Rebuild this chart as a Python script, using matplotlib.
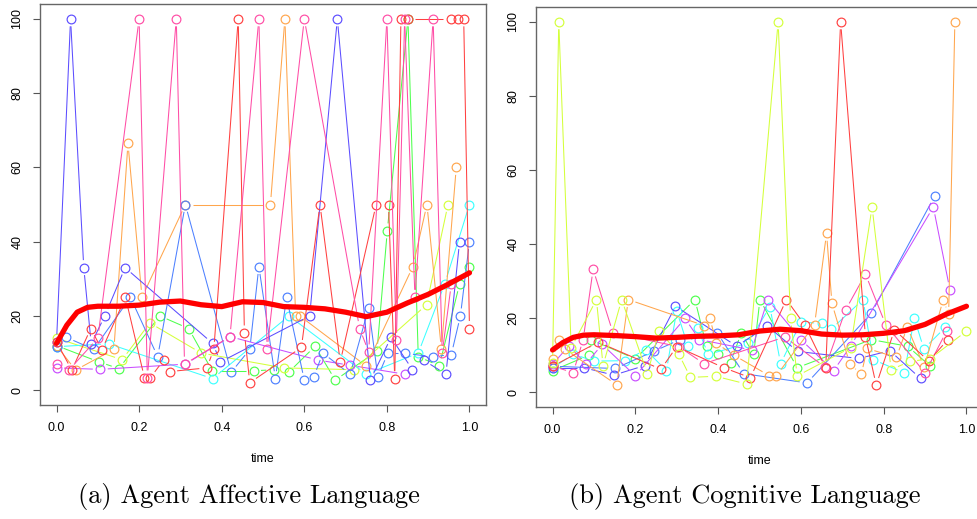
import numpy as np
import matplotlib
matplotlib.use('Agg')
import matplotlib.pyplot as plt
from matplotlib.collections import LineCollection

plt.rcParams['font.family'] = ['Liberation Sans', 'DejaVu Sans']

RED = '#ff4040'
PINK = '#ff4da6'
ORANGE = '#ffa64d'
YELLOW = '#d4ff3a'
GREEN = '#4dff4d'
CYAN = '#3cffff'
BLUE = '#4d80ff'
VIOLET = '#5c4dff'
MAGENTA = '#c94dff'

# ---- (a) Agent Affective Language ----
aff_violet_x = [0.0, 0.034, 0.066, 0.084, 0.117, 0.166, 0.378, 0.397, 0.613, 0.68, 0.76, 0.81, 0.862, 0.89, 0.943, 0.976]
aff_violet_y = [13, 100, 33, 12.5, 20, 33, 12.6, 7.6, 20, 100, 2.7, 14.2, 5.5, 8, 4.3, 40]
aff_pink_x = [0.0, 0.03, 0.1, 0.2, 0.22, 0.29, 0.31, 0.42, 0.49, 0.51, 0.60, 0.734, 0.756, 0.80, 0.823, 0.843, 0.868, 0.912, 0.934, 0.956]
aff_pink_y = [7, 5.4, 14, 100, 3.3, 100, 7, 14.4, 100, 11, 100, 16.6, 10.3, 100, 13.4, 100, 25, 100, 10, 28.6]
aff_red_x = [0.0, 0.037, 0.083, 0.11, 0.167, 0.213, 0.227, 0.26, 0.274, 0.364, 0.381, 0.44, 0.455, 0.468,
             0.593, 0.638, 0.687, 0.774, 0.804, 0.819, 0.834, 0.851, 0.955, 0.971, 0.986, 1.0]
aff_red_y = [13, 5.4, 16.6, 10.9, 25, 3.3, 3.3, 8.2, 5, 6, 11, 100, 15.4, 2,
             11.5, 50, 7.6, 50, 50, 3.1, 100, 100, 100, 100, 100, 16.6]
aff_orange_x = [0.0, 0.046, 0.139, 0.173, 0.207, 0.312, 0.518, 0.553, 0.579, 0.589, 0.75, 0.863, 0.897, 0.932, 0.968]
aff_orange_y = [12, 5.4, 11, 66.5, 25, 50, 50, 100, 20, 20, 6.5, 33.3, 50, 11, 60]
aff_blue_x = [0.0, 0.024, 0.09, 0.179, 0.245, 0.312, 0.423, 0.468, 0.49, 0.53, 0.557, 0.6, 0.623, 0.645,
              0.711, 0.756, 0.778, 0.802, 0.845, 0.911, 0.956, 0.978, 1.0]
aff_blue_y = [11.7, 14.2, 11, 25, 9, 50, 4.8, 11, 33.3, 3.1, 25, 2.7, 3.6, 10,
              4.3, 22.2, 3.6, 9.9, 9.9, 9, 9.6, 20, 40]
aff_green_x = [0.0, 0.103, 0.151, 0.25, 0.32, 0.377, 0.477, 0.526, 0.562, 0.626, 0.675, 0.776, 0.801,
               0.851, 0.876, 0.927, 0.976, 1.0]
aff_green_y = [12, 7.6, 5.8, 20, 16.6, 5.2, 5.2, 5.5, 4.8, 11.8, 2.7, 10.5, 42.9,
               100, 9, 6.6, 28.6, 33.3]
aff_cyan_x = [0.0, 0.126, 0.378, 0.563, 0.75, 0.876, 0.94, 1.0]
aff_cyan_y = [11.7, 12.5, 3.1, 20, 4.3, 10, 28.6, 50]
aff_yellow_x = [0.0, 0.159, 0.226, 0.35, 0.55, 0.72, 0.896, 0.948]
aff_yellow_y = [14, 8.2, 18.1, 10, 6, 5.5, 23, 50]
aff_magenta_x = [0.0, 0.106, 0.312, 0.421, 0.633, 0.711, 0.843]
aff_magenta_y = [6, 5.6, 7, 14.4, 8.1, 6.7, 4.3]

aff_trend_x = [0, 0.025, 0.05, 0.075, 0.1, 0.15, 0.2, 0.25, 0.3, 0.35, 0.4, 0.45, 0.5, 0.55, 0.6,
               0.65, 0.7, 0.75, 0.8, 0.85, 0.9, 0.95, 1.0]
aff_trend_y = [12.6, 17.5, 21, 22.3, 22.6, 22.6, 22.9, 23.7, 24.0, 23.0, 22.5, 23.8, 23.6, 22.5, 22.3,
               21.9, 21.0, 19.8, 21.0, 23.5, 25.8, 28.6, 31.6]

# ---- (b) Agent Cognitive Language ----
cog_yellow_x = [0.0, 0.015, 0.045, 0.106, 0.122, 0.167, 0.229, 0.258, 0.305, 0.333, 0.394, 0.469, 0.545,
                0.575, 0.591, 0.72, 0.772, 0.818, 0.863, 0.912, 1.0]
cog_yellow_y = [8, 100, 12, 25, 7.2, 25, 5, 16.6, 10.3, 4, 4.3, 2.2, 100,
                20, 4.4, 12, 50, 6.1, 8.3, 9, 16.5]
cog_red_x = [0.0, 0.11, 0.262, 0.3, 0.414, 0.478, 0.565, 0.609, 0.66, 0.696, 0.756, 0.782, 0.826, 0.909, 0.955]
cog_red_y = [7, 13.5, 6.2, 12.3, 6.6, 3.9, 25, 18.2, 6.5, 100, 15, 1.9, 16.8, 8.4, 14.2]
cog_orange_x = [0.0, 0.015, 0.03, 0.155, 0.183, 0.366, 0.38, 0.396, 0.438, 0.523, 0.541, 0.633, 0.662,
                0.675, 0.718, 0.746, 0.76, 0.831, 0.857, 0.898, 0.944, 0.957, 0.972]
cog_orange_y = [9, 14.2, 11.6, 2, 25, 18, 20, 13.2, 10, 4.5, 4.5, 18.2, 42.9,
                24, 7.7, 4.8, 11.8, 9.4, 17.6, 6.8, 25, 21, 100]
cog_green_x = [0.0, 0.088, 0.092, 0.2, 0.344, 0.372, 0.4, 0.43, 0.456, 0.486, 0.501, 0.591, 0.77, 0.858, 0.913]
cog_green_y = [5.8, 10, 14.2, 9, 25, 12.4, 10.3, 8, 16, 10.2, 25, 6.6, 14.2, 12.4, 7]
cog_cyan_x = [0.0, 0.05, 0.1, 0.176, 0.225, 0.275, 0.3, 0.327, 0.351, 0.376, 0.472, 0.525, 0.551, 0.6,
              0.65, 0.673, 0.75, 0.775, 0.85, 0.874, 0.897, 0.949]
cog_cyan_y = [6.5, 10.3, 8.4, 8.5, 11.5, 5.8, 22, 12.4, 17.2, 10.2, 13.2, 23.1, 7.7, 18.9,
              18.6, 17, 25, 8.8, 5.2, 20, 11.7, 17.5]
cog_blue_x = [0.0, 0.151, 0.244, 0.308, 0.398, 0.462, 0.615, 0.77, 0.923]
cog_blue_y = [7, 6.4, 11, 14.2, 16, 5, 2.5, 21.3, 52.9]
cog_violet_x = [0.0, 0.076, 0.148, 0.223, 0.297, 0.445, 0.519, 0.592, 0.74, 0.815, 0.889]
cog_violet_y = [6.6, 6.6, 4.6, 7.2, 23.2, 12.4, 17.9, 11, 9.1, 11.2, 3.7]
cog_magenta_x = [0.0, 0.039, 0.081, 0.12, 0.2, 0.32, 0.355, 0.481, 0.52, 0.6, 0.679, 0.72, 0.92, 0.96]
cog_magenta_y = [7.5, 12.5, 7.7, 12.9, 4.4, 19.9, 14.2, 11.4, 25, 14.2, 5.8, 12.4, 50, 27.7]
cog_pink_x = [0.0, 0.05, 0.074, 0.098, 0.146, 0.305, 0.366, 0.561, 0.659, 0.708, 0.756, 0.805, 0.9, 0.952]
cog_pink_y = [7, 5.3, 14.2, 33.2, 16, 12.3, 7.7, 14.9, 6.7, 22.2, 31.9, 18.2, 5.2, 16.5]

cog_trend_x = [0, 0.025, 0.05, 0.075, 0.1, 0.15, 0.2, 0.25, 0.3, 0.35, 0.4, 0.45, 0.5, 0.55, 0.6,
               0.65, 0.7, 0.75, 0.8, 0.85, 0.9, 0.95, 1.0]
cog_trend_y = [11.4, 13.4, 14.8, 15.4, 15.5, 15.3, 15.0, 14.6, 14.8, 15.1, 15.2, 15.5, 16.5, 17.0, 16.6,
               15.7, 15.4, 15.5, 15.9, 16.6, 18.3, 21.0, 23.2]

aff_series = [
    (aff_green_x, aff_green_y, GREEN), (aff_yellow_x, aff_yellow_y, YELLOW),
    (aff_cyan_x, aff_cyan_y, CYAN), (aff_magenta_x, aff_magenta_y, MAGENTA),
    (aff_orange_x, aff_orange_y, ORANGE), (aff_blue_x, aff_blue_y, BLUE),
    (aff_violet_x, aff_violet_y, VIOLET), (aff_red_x, aff_red_y, RED),
    (aff_pink_x, aff_pink_y, PINK),
]
cog_series = [
    (cog_green_x, cog_green_y, GREEN), (cog_cyan_x, cog_cyan_y, CYAN),
    (cog_blue_x, cog_blue_y, BLUE), (cog_violet_x, cog_violet_y, VIOLET),
    (cog_magenta_x, cog_magenta_y, MAGENTA), (cog_orange_x, cog_orange_y, ORANGE),
    (cog_pink_x, cog_pink_y, PINK), (cog_red_x, cog_red_y, RED),
    (cog_yellow_x, cog_yellow_y, YELLOW),
]

W, H = 978, 519
fig = plt.figure(figsize=(W / 100, H / 100), dpi=100)
ax1 = fig.add_axes([40 / W, (H - 405) / H, 446 / W, 401 / H])
ax2 = fig.add_axes([536 / W, (H - 407) / H, 447 / W, 400 / H])

GAP = 7.5  # pixels left open around each point, like R type="b"


def draw_b(ax, xs, ys, color):
    pts = ax.transData.transform(np.column_stack([xs, ys]))
    segs = []
    for p, q in zip(pts[:-1], pts[1:]):
        d = q - p
        L = np.hypot(d[0], d[1])
        if L <= 2 * GAP:
            continue
        u = d / L
        segs.append(ax.transData.inverted().transform([p + u * GAP, q - u * GAP]))
    ax.add_collection(LineCollection(segs, colors=color, linewidths=0.75))
    ax.plot(xs, ys, 'o', ls='none', mfc='none', mec=color, ms=6.3, mew=0.85)


for ax, series, tx, ty in [(ax1, aff_series, aff_trend_x, aff_trend_y),
                           (ax2, cog_series, cog_trend_x, cog_trend_y)]:
    ax.set_xlim(-0.04, 1.04)
    ax.set_ylim(-4, 104)
    for xs, ys, c in series:
        draw_b(ax, xs, ys, c)
    ax.plot(tx, ty, color='#ff0000', lw=3.8, solid_capstyle='round', solid_joinstyle='round')
    ax.set_xticks([0, 0.2, 0.4, 0.6, 0.8, 1.0])
    ax.set_xticklabels(['0.0', '0.2', '0.4', '0.6', '0.8', '1.0'])
    ax.set_yticks([0, 20, 40, 60, 80, 100])
    ax.tick_params(length=5, width=0.8, color='#555555', labelsize=9, pad=7)
    for lab in ax.get_yticklabels():
        lab.set_rotation(90)
        lab.set_va('center')
    for s in ax.spines.values():
        s.set_color('#666666')
        s.set_linewidth(1.0)
    ax.set_xlabel('time', fontsize=9, labelpad=14)

fig.text(249 / W, 1 - 497 / H, '(a) Agent Affective Language', family='cmr10', fontsize=19,
         ha='center', va='center')
fig.text(745 / W, 1 - 497 / H, '(b) Agent Cognitive Language', family='cmr10', fontsize=19,
         ha='center', va='center')

fig.savefig('out.png', dpi=100)
